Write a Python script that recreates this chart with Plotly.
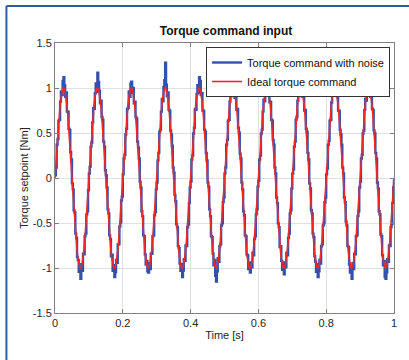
import numpy as np
import plotly.graph_objects as go

# Ideal torque command (10 Hz sine), sampled every 2.5 ms, one row per period
ideal = [
    0, 0.156, 0.309, 0.454, 0.588, 0.707, 0.809, 0.891, 0.951, 0.988, 1.0, 0.988, 0.951, 0.891, 0.809, 0.707, 0.588, 0.454, 0.309, 0.156, 0, -0.156, -0.309, -0.454, -0.588, -0.707, -0.809, -0.891, -0.951, -0.988, -1.0, -0.988, -0.951, -0.891, -0.809, -0.707, -0.588, -0.454, -0.309, -0.156,
    0, 0.156, 0.309, 0.454, 0.588, 0.707, 0.809, 0.891, 0.951, 0.988, 1.0, 0.988, 0.951, 0.891, 0.809, 0.707, 0.588, 0.454, 0.309, 0.156, 0, -0.156, -0.309, -0.454, -0.588, -0.707, -0.809, -0.891, -0.951, -0.988, -1.0, -0.988, -0.951, -0.891, -0.809, -0.707, -0.588, -0.454, -0.309, -0.156,
    0, 0.156, 0.309, 0.454, 0.588, 0.707, 0.809, 0.891, 0.951, 0.988, 1.0, 0.988, 0.951, 0.891, 0.809, 0.707, 0.588, 0.454, 0.309, 0.156, 0, -0.156, -0.309, -0.454, -0.588, -0.707, -0.809, -0.891, -0.951, -0.988, -1.0, -0.988, -0.951, -0.891, -0.809, -0.707, -0.588, -0.454, -0.309, -0.156,
    0, 0.156, 0.309, 0.454, 0.588, 0.707, 0.809, 0.891, 0.951, 0.988, 1.0, 0.988, 0.951, 0.891, 0.809, 0.707, 0.588, 0.454, 0.309, 0.156, 0, -0.156, -0.309, -0.454, -0.588, -0.707, -0.809, -0.891, -0.951, -0.988, -1.0, -0.988, -0.951, -0.891, -0.809, -0.707, -0.588, -0.454, -0.309, -0.156,
    0, 0.156, 0.309, 0.454, 0.588, 0.707, 0.809, 0.891, 0.951, 0.988, 1.0, 0.988, 0.951, 0.891, 0.809, 0.707, 0.588, 0.454, 0.309, 0.156, 0, -0.156, -0.309, -0.454, -0.588, -0.707, -0.809, -0.891, -0.951, -0.988, -1.0, -0.988, -0.951, -0.891, -0.809, -0.707, -0.588, -0.454, -0.309, -0.156,
    0, 0.156, 0.309, 0.454, 0.588, 0.707, 0.809, 0.891, 0.951, 0.988, 1.0, 0.988, 0.951, 0.891, 0.809, 0.707, 0.588, 0.454, 0.309, 0.156, 0, -0.156, -0.309, -0.454, -0.588, -0.707, -0.809, -0.891, -0.951, -0.988, -1.0, -0.988, -0.951, -0.891, -0.809, -0.707, -0.588, -0.454, -0.309, -0.156,
    0, 0.156, 0.309, 0.454, 0.588, 0.707, 0.809, 0.891, 0.951, 0.988, 1.0, 0.988, 0.951, 0.891, 0.809, 0.707, 0.588, 0.454, 0.309, 0.156, 0, -0.156, -0.309, -0.454, -0.588, -0.707, -0.809, -0.891, -0.951, -0.988, -1.0, -0.988, -0.951, -0.891, -0.809, -0.707, -0.588, -0.454, -0.309, -0.156,
    0, 0.156, 0.309, 0.454, 0.588, 0.707, 0.809, 0.891, 0.951, 0.988, 1.0, 0.988, 0.951, 0.891, 0.809, 0.707, 0.588, 0.454, 0.309, 0.156, 0, -0.156, -0.309, -0.454, -0.588, -0.707, -0.809, -0.891, -0.951, -0.988, -1.0, -0.988, -0.951, -0.891, -0.809, -0.707, -0.588, -0.454, -0.309, -0.156,
    0, 0.156, 0.309, 0.454, 0.588, 0.707, 0.809, 0.891, 0.951, 0.988, 1.0, 0.988, 0.951, 0.891, 0.809, 0.707, 0.588, 0.454, 0.309, 0.156, 0, -0.156, -0.309, -0.454, -0.588, -0.707, -0.809, -0.891, -0.951, -0.988, -1.0, -0.988, -0.951, -0.891, -0.809, -0.707, -0.588, -0.454, -0.309, -0.156,
    0, 0.156, 0.309, 0.454, 0.588, 0.707, 0.809, 0.891, 0.951, 0.988, 1.0, 0.988, 0.951, 0.891, 0.809, 0.707, 0.588, 0.454, 0.309, 0.156, 0, -0.156, -0.309, -0.454, -0.588, -0.707, -0.809, -0.891, -0.951, -0.988, -1.0, -0.988, -0.951, -0.891, -0.809, -0.707, -0.588, -0.454, -0.309, -0.156,
    0,
]

# Deviation of the noisy command from the ideal one
noise = [
    0.03, -0.04, 0.06, -0.02, 0.05, -0.06, 0.04, 0.07, -0.03, 0.09, 0.12, 0.04, -0.05, 0.06, -0.07, 0.03, -0.04, 0.08, -0.02, 0.05, -0.06, 0.03, -0.05, 0.07, -0.03, 0.04, -0.07, -0.02, -0.09, -0.05, -0.12, 0.03, -0.08, 0.05, -0.04, 0.06, -0.03, 0.05, -0.06, 0.02,
    0.05, -0.03, 0.04, -0.06, 0.03, 0.07, -0.04, 0.05, 0.1, -0.03, 0.17, 0.08, 0.02, -0.06, 0.05, -0.03, 0.06, -0.05, 0.04, -0.07, 0.03, 0.05, -0.04, 0.06, -0.05, 0.03, -0.06, 0.04, -0.08, 0.02, -0.1, -0.06, 0.04, -0.05, 0.07, -0.03, 0.05, -0.04, 0.06, -0.05,
    0.04, 0.06, -0.05, 0.03, -0.04, 0.06, -0.03, 0.07, -0.05, 0.06, 0.07, -0.04, 0.05, -0.06, 0.04, -0.03, 0.07, -0.05, 0.03, 0.06, -0.04, 0.05, -0.06, 0.03, -0.05, 0.06, -0.04, -0.07, 0.03, -0.05, -0.05, 0.04, -0.06, 0.05, -0.03, 0.06, -0.05, 0.04, -0.07, 0.03,
    -0.05, 0.04, -0.03, 0.06, -0.05, 0.03, 0.07, -0.04, 0.06, 0.1, 0.28, 0.05, -0.04, 0.06, -0.05, 0.04, -0.06, 0.03, 0.05, -0.04, 0.06, -0.03, 0.05, -0.06, 0.04, -0.05, 0.03, -0.06, -0.08, 0.03, -0.1, -0.04, 0.05, -0.03, 0.06, -0.05, 0.04, -0.06, 0.03, 0.05,
    -0.04, 0.05, -0.06, 0.04, -0.03, 0.06, -0.05, 0.04, 0.08, -0.04, 0.12, 0.09, -0.03, 0.05, -0.06, 0.04, -0.05, 0.06, -0.03, 0.04, -0.05, 0.06, -0.04, 0.03, -0.06, 0.05, -0.03, -0.08, 0.04, -0.1, -0.15, -0.05, 0.06, -0.04, 0.05, -0.03, 0.06, -0.05, 0.04, -0.06,
    0.05, -0.04, 0.06, -0.03, 0.05, -0.06, 0.04, 0.06, -0.04, 0.1, 0.2, 0.05, -0.06, 0.04, -0.05, 0.06, -0.03, 0.05, -0.04, 0.06, -0.05, 0.03, -0.06, 0.04, -0.05, 0.06, -0.04, 0.03, -0.06, 0.04, -0.05, 0.05, -0.04, 0.06, -0.05, 0.03, -0.06, 0.05, -0.04, 0.06,
    -0.03, 0.05, -0.06, 0.04, -0.05, 0.03, 0.06, -0.04, 0.05, 0.09, 0.18, -0.03, 0.06, -0.05, 0.04, -0.06, 0.05, -0.03, 0.06, -0.04, 0.05, -0.06, 0.03, -0.05, 0.04, -0.06, 0.05, -0.03, -0.07, 0.04, -0.07, 0.05, -0.04, 0.06, -0.05, 0.04, -0.03, 0.06, -0.05, 0.04,
    0.05, -0.06, 0.04, -0.05, 0.06, -0.03, 0.05, 0.07, -0.04, 0.08, 0.2, 0.06, -0.05, 0.04, -0.06, 0.05, -0.04, 0.06, -0.03, 0.05, -0.06, 0.04, -0.05, 0.06, -0.03, 0.05, -0.06, -0.04, -0.09, 0.03, -0.1, -0.05, 0.04, -0.06, 0.05, -0.03, 0.06, -0.05, 0.04, -0.06,
    0.04, -0.05, 0.06, -0.04, 0.05, -0.06, 0.03, 0.06, 0.08, -0.03, 0.2, 0.07, -0.04, 0.05, -0.06, 0.04, -0.05, 0.03, 0.06, -0.04, 0.05, -0.06, 0.04, -0.03, 0.06, -0.05, 0.04, -0.07, -0.1, -0.03, -0.12, 0.04, -0.06, 0.05, -0.04, 0.06, -0.05, 0.03, -0.06, 0.05,
    -0.04, 0.06, -0.05, 0.04, -0.06, 0.05, 0.07, -0.03, 0.06, 0.1, 0.18, 0.04, -0.05, 0.06, -0.04, 0.05, -0.06, 0.04, -0.03, 0.06, -0.05, 0.04, -0.06, 0.05, -0.04, 0.06, -0.05, -0.08, 0.03, -0.11, -0.12, -0.06, 0.05, -0.04, 0.06, -0.05, 0.04, -0.06, 0.03, 0.05,
    -0.02,
]

t_start, t_end = 0.0, 1.0
x_ticks = [0, 0.2, 0.4, 0.6, 0.8, 1]
x_tick_labels = ["0", "0.2", "0.4", "0.6", "0.8", "1"]
y_ticks = [-1.5, -1, -0.5, 0, 0.5, 1, 1.5]
y_tick_labels = ["-1.5", "-1", "-0.5", "0", "0.5", "1", "1.5"]

time = np.linspace(t_start, t_end, len(ideal))
noisy = np.array(ideal) + np.array(noise)

FONT = "Liberation Sans, Arial, Helvetica, sans-serif"
W, H = 409, 360
L, R, T, B = 55, 12, 43, 47
pw, ph = W - L - R, H - T - B

fig = go.Figure()
fig.add_trace(go.Scatter(x=time, y=noisy, mode="lines", name="Torque command with noise",
                         line=dict(color="#3350aa", width=2.4, shape="hv")))
fig.add_trace(go.Scatter(x=time, y=ideal, mode="lines", name="Ideal torque command",
                         line=dict(color="#ec2a2c", width=1.6)))

axis_common = dict(showline=True, linecolor="#808080", linewidth=1, mirror="ticks",
                   ticks="inside", ticklen=4, tickcolor="#808080",
                   showgrid=True, gridcolor="#e0e0e0", gridwidth=1, zeroline=False,
                   tickfont=dict(family=FONT, size=11, color="#262626"))

fig.update_xaxes(range=[t_start, t_end], tickvals=x_ticks, ticktext=x_tick_labels,
                 title=dict(text="Time [s]", font=dict(family=FONT, size=11, color="#262626"), standoff=3),
                 **axis_common)
fig.update_yaxes(range=[-1.5, 1.5], tickvals=y_ticks, ticktext=y_tick_labels,
                 title=dict(text="Torque setpoint [Nm]", font=dict(family=FONT, size=11, color="#262626"), standoff=1),
                 **axis_common)

frame_x = (6 - L) / pw
frame_y = (H - B - 6) / ph
frame_line = dict(color="#2b5ca8", width=2)
fig.update_layout(
    width=W, height=H,
    margin=dict(l=L, r=R, t=T, b=B),
    paper_bgcolor="white", plot_bgcolor="white",
    font=dict(family=FONT, size=11, color="#262626"),
    title=dict(text="<b>Torque command input</b>", x=(L + pw / 2) / W, xanchor="center",
               y=1 - 31 / H, yanchor="middle", font=dict(family=FONT, size=12, color="#111111")),
    legend=dict(x=(393 - L) / pw, xanchor="right", y=(H - B - 47) / ph, yanchor="top",
                bgcolor="white", bordercolor="#333333", borderwidth=1,
                font=dict(family=FONT, size=11, color="#111111"),
                tracegroupgap=0, itemwidth=30),
    showlegend=True,
    shapes=[
        dict(type="line", xref="paper", yref="paper", x0=frame_x, x1=frame_x,
             y0=frame_y, y1=-B / ph - 0.1, line=frame_line, layer="above"),
        dict(type="line", xref="paper", yref="paper", x0=frame_x, x1=1 + R / pw + 0.1,
             y0=frame_y, y1=frame_y, line=frame_line, layer="above"),
    ],
)

fig.write_html("out.html", config={"displayModeBar": False},
               post_script="document.body.style.margin='0';document.body.style.overflow='hidden';")
